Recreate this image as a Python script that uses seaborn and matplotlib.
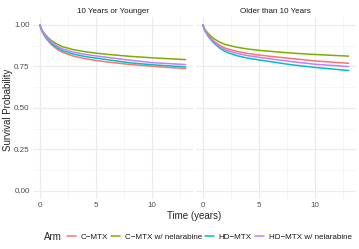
import numpy as np
import pandas as pd
import matplotlib
matplotlib.use("Agg")
import matplotlib.pyplot as plt
import seaborn as sns
from matplotlib.lines import Line2D

# 値は画像から目視で読み取ったもの
arms = ["C−MTX", "C−MTX w/ nelarabine", "HD−MTX", "HD−MTX w/ nelarabine"]
colors = ["#F8766D", "#7CAE00", "#00BFC4", "#C77CFF"]
panels = ["10 Years or Younger", "Older than 10 Years"]
times = [0, 0.1, 0.25, 0.5, 0.75, 1, 1.5, 2, 3, 4, 5, 6, 8, 10, 13]

young_cmtx = [1, .975, .952, .924, .902, .883, .855, .835, .812, .797, .786, .777, .762, .751, .737]
young_cmtx_nel = [1, .980, .962, .940, .922, .907, .885, .869, .851, .839, .830, .823, .811, .802, .791]
young_hd = [1, .976, .955, .929, .908, .890, .864, .845, .824, .810, .800, .791, .772, .760, .747]
young_hd_nel = [1, .978, .958, .934, .914, .898, .873, .856, .836, .823, .813, .805, .788, .773, .761]

old_cmtx = [1, .979, .959, .936, .917, .901, .877, .860, .841, .828, .819, .811, .797, .783, .769]
old_cmtx_nel = [1, .982, .966, .946, .930, .916, .896, .882, .866, .855, .847, .841, .830, .822, .812]
old_hd = [1, .976, .955, .929, .907, .889, .860, .839, .815, .800, .789, .779, .759, .744, .725]
old_hd_nel = [1, .977, .957, .932, .912, .895, .869, .850, .829, .815, .805, .796, .778, .763, .749]

series = {
    panels[0]: [young_cmtx, young_cmtx_nel, young_hd, young_hd_nel],
    panels[1]: [old_cmtx, old_cmtx_nel, old_hd, old_hd_nel],
}

rows = []
for panel, vals_list in series.items():
    for arm, vals in zip(arms, vals_list):
        for t, s in zip(times, vals):
            rows.append({"panel": panel, "Arm": arm, "time": t, "surv": s})
df = pd.DataFrame(rows)

sns.set_theme(style="white")
plt.rcParams["font.family"] = ["Liberation Sans", "DejaVu Sans"]

fig = plt.figure(figsize=(3.59, 2.49), dpi=100)
W, H = 359, 249
bottom = 1 - 199 / H
height = (199 - 16.7) / H
axes = [
    fig.add_axes([32.7 / W, bottom, 160.2 / W, height]),
    fig.add_axes([195.7 / W, bottom, 160.2 / W, height]),
]
palette = dict(zip(arms, colors))
small = 5.8
big = 7.0

for i, (ax, panel) in enumerate(zip(axes, panels)):
    sub = df[df["panel"] == panel]
    ax.set_xlim(-0.65, 13.65)
    ax.set_ylim(-0.05, 1.05)
    ax.set_xticks([0, 5, 10])
    ax.set_xticks([2.5, 7.5, 12.5], minor=True)
    ax.set_yticks([0, 0.25, 0.5, 0.75, 1.0])
    ax.set_yticks([0.125, 0.375, 0.625, 0.875], minor=True)
    ax.grid(True, which="major", color="#EBEBEB", lw=0.8)
    ax.grid(True, which="minor", color="#F2F2F2", lw=0.45)
    ax.set_axisbelow(True)
    sns.lineplot(data=sub, x="time", y="surv", hue="Arm", palette=palette,
                 hue_order=arms, ax=ax, legend=False, lw=1.1)
    for s in ax.spines.values():
        s.set_visible(False)
    ax.tick_params(axis="both", which="both", length=0, labelsize=small,
                   colors="#4D4D4D")
    ax.tick_params(axis="x", pad=2.2)
    ax.tick_params(axis="y", pad=2.2)
    ax.set_xlabel("")
    ax.set_ylabel("")
    ax.set_title(panel, fontsize=small, color="#1A1A1A", pad=2.4)
    if i == 0:
        ax.set_yticklabels(["0.00", "0.25", "0.50", "0.75", "1.00"])
    else:
        ax.set_yticklabels([])

fig.text(194.5 / W, 1 - 216 / H, "Time (years)", ha="center", va="center", fontsize=big)
fig.text(8 / W, 1 - 110 / H, "Survival Probability",
         rotation=90, ha="center", va="center", fontsize=big)

fig.text(43.5 / W, 1 - 237 / H, "Arm", ha="left", va="center", fontsize=big)
handles = [Line2D([0], [0], color=c, lw=1.1) for c in colors]
fig.legend(handles, arms, loc="center left", bbox_to_anchor=(66.7 / W, 1 - 237 / H),
           ncol=4, frameon=False, fontsize=small, handlelength=1.1,
           handletextpad=0.6, columnspacing=0.4, borderpad=0, borderaxespad=0,
           labelcolor="#1A1A1A")

fig.savefig("out.png", dpi=100)
